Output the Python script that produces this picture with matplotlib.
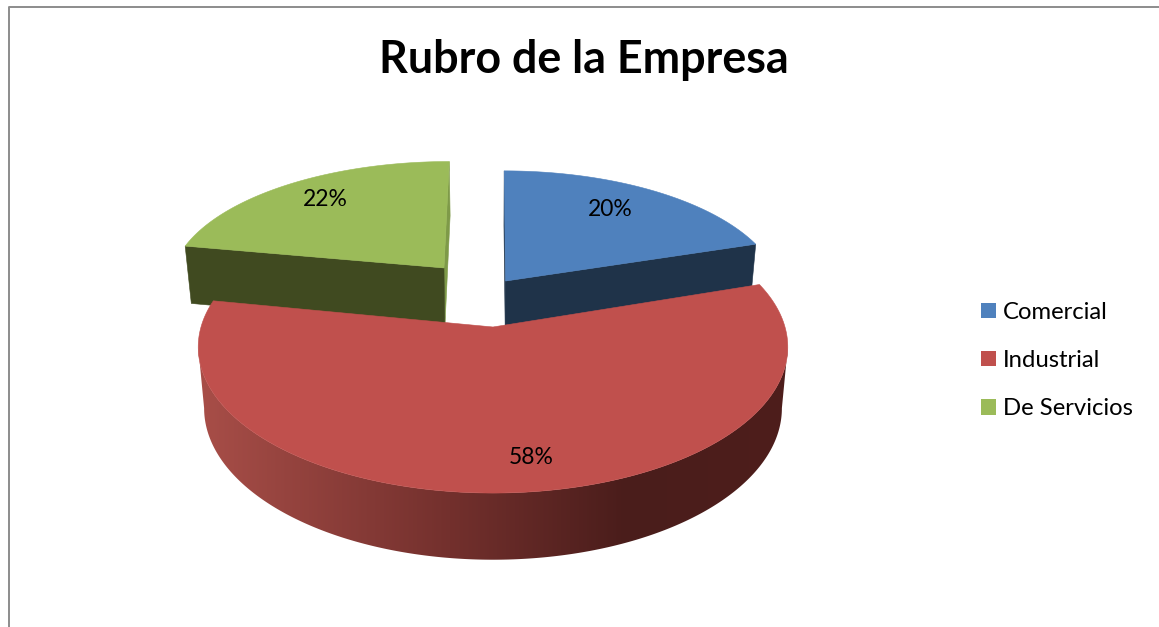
import matplotlib
matplotlib.use('Agg')
import matplotlib.pyplot as plt
import numpy as np
from matplotlib.patches import Patch, Polygon

plt.rcParams['font.family'] = ['Lato', 'DejaVu Sans']

# 数据
title = 'Rubro de la Empresa'
categories = ['Comercial', 'Industrial', 'De Servicios']
values = [20, 58, 22]

top_colors = ['#4F81BD', '#C0504D', '#9BBB59']
cut_colors = ['#1F3349', '#5A2220', '#404A20']
back_colors = ['#1F3349', '#5A2220', '#7E9A48']

# 每块扇形在地平面上的偏移和半径 (u, v, ru, rv)
slices = [(0.045, 0.3356, 0.98, 0.945), (0.0, 0.0, 1.0, 1.0), (-0.178, 0.4367, 0.982, 0.935)]
label_pos = [(610, 210), (531, 458), (325, 200)]

# 透视参数
CX, CY = 493, 327
A, B, P = 292, 143.3, 0.137
LOW_SCALE, DROP = 0.98, 60.4


def project(u, v, low=False):
    w = 1 + P * v
    x = A * u / w
    y = B * v / w
    if low:
        return CX + LOW_SCALE * x, CY - LOW_SCALE * y + DROP / w
    return CX + x, CY - y


def wedge_angles(vals):
    # 从12点方向开始顺时针
    bounds = 90 - np.cumsum([0] + list(vals)) / sum(vals) * 360
    return bounds[:-1], bounds[1:]


def ring_point(s, deg, low=False):
    t = np.radians(deg)
    return project(s[0] + s[2] * np.cos(t), s[1] + s[3] * np.sin(t), low)


def fill(ax, pts, color, zorder=1):
    xs, ys = zip(*pts)
    ax.fill(xs, ys, facecolor=color, edgecolor=color, linewidth=0.4, zorder=zorder)


def draw_cut(ax, s, deg, color):
    apex_top = project(s[0], s[1])
    apex_low = project(s[0], s[1], low=True)
    fill(ax, [apex_top, ring_point(s, deg), ring_point(s, deg, True), apex_low], color)


def draw_top(ax, s, start, end, color, zorder=1):
    pts = [project(s[0], s[1])]
    pts += [ring_point(s, d) for d in np.linspace(start, end, 200)]
    fill(ax, pts, color, zorder)


def draw_rim(ax, s):
    # 红色侧面的水平渐变，用图像裁剪到侧面形状
    stops = [200, 450, 625, 790]
    xs = np.arange(190, 800)
    grad = np.stack([np.interp(xs, stops, [168, 115, 74, 78]),
                     np.interp(xs, stops, [78, 48, 29, 30]),
                     np.interp(xs, stops, [72, 45, 27, 28])], axis=-1) / 255
    im = ax.imshow(grad[np.newaxis, :, :], extent=(190, 800, 570, 280), aspect='auto',
                   zorder=2, interpolation='bilinear')
    # 只取最宽点之间的弧，上下两条弧才不会交叉
    a = np.degrees(np.arcsin(P))
    degs = np.linspace(-180 + a, -a, 400)
    pts = [ring_point(s, d) for d in degs] + [ring_point(s, d, True) for d in degs[::-1]]
    clip = Polygon(pts, closed=True, transform=ax.transData, facecolor='none', edgecolor='none')
    ax.add_patch(clip)
    im.set_clip_path(clip)


fig = plt.figure(figsize=(11.59, 6.27), dpi=100)
ax = fig.add_axes([0, 0, 1, 1])

# 外框
ax.plot([8.5, 8.5, 1159], [627, 6.5, 6.5], color='#8C8C8C', linewidth=1.4)

starts, ends = wedge_angles(values)

# 先画后面两块
draw_cut(ax, slices[2], ends[2], back_colors[2])
draw_cut(ax, slices[2], starts[2], cut_colors[2])
draw_cut(ax, slices[0], starts[0], back_colors[0])
draw_cut(ax, slices[0], ends[0], cut_colors[0])
draw_top(ax, slices[2], starts[2], ends[2], top_colors[2])
draw_top(ax, slices[0], starts[0], ends[0], top_colors[0])

# 红色块在最前面
draw_rim(ax, slices[1])
draw_top(ax, slices[1], starts[1], ends[1], top_colors[1], zorder=3)

for v, (x, y) in zip(values, label_pos):
    ax.text(x, y, '{}%'.format(v), ha='center', va='center', fontsize=16.5, color='black', zorder=4)

ax.text(584, 60, title, ha='center', va='center', fontsize=32.3, fontweight='bold', color='black')

handles = [Patch(facecolor=c, edgecolor='none') for c in top_colors]
ax.legend(handles, categories, loc='center left', bbox_to_anchor=(959.5 / 1159, 1 - 360.5 / 627),
          frameon=False, fontsize=17.2, handlelength=0.63, handleheight=0.63,
          handletextpad=0.3, labelspacing=1.14, borderpad=0.4)

ax.set_xlim(0, 1159)
ax.set_ylim(627, 0)
ax.axis('off')

fig.savefig('out.png', dpi=100)
